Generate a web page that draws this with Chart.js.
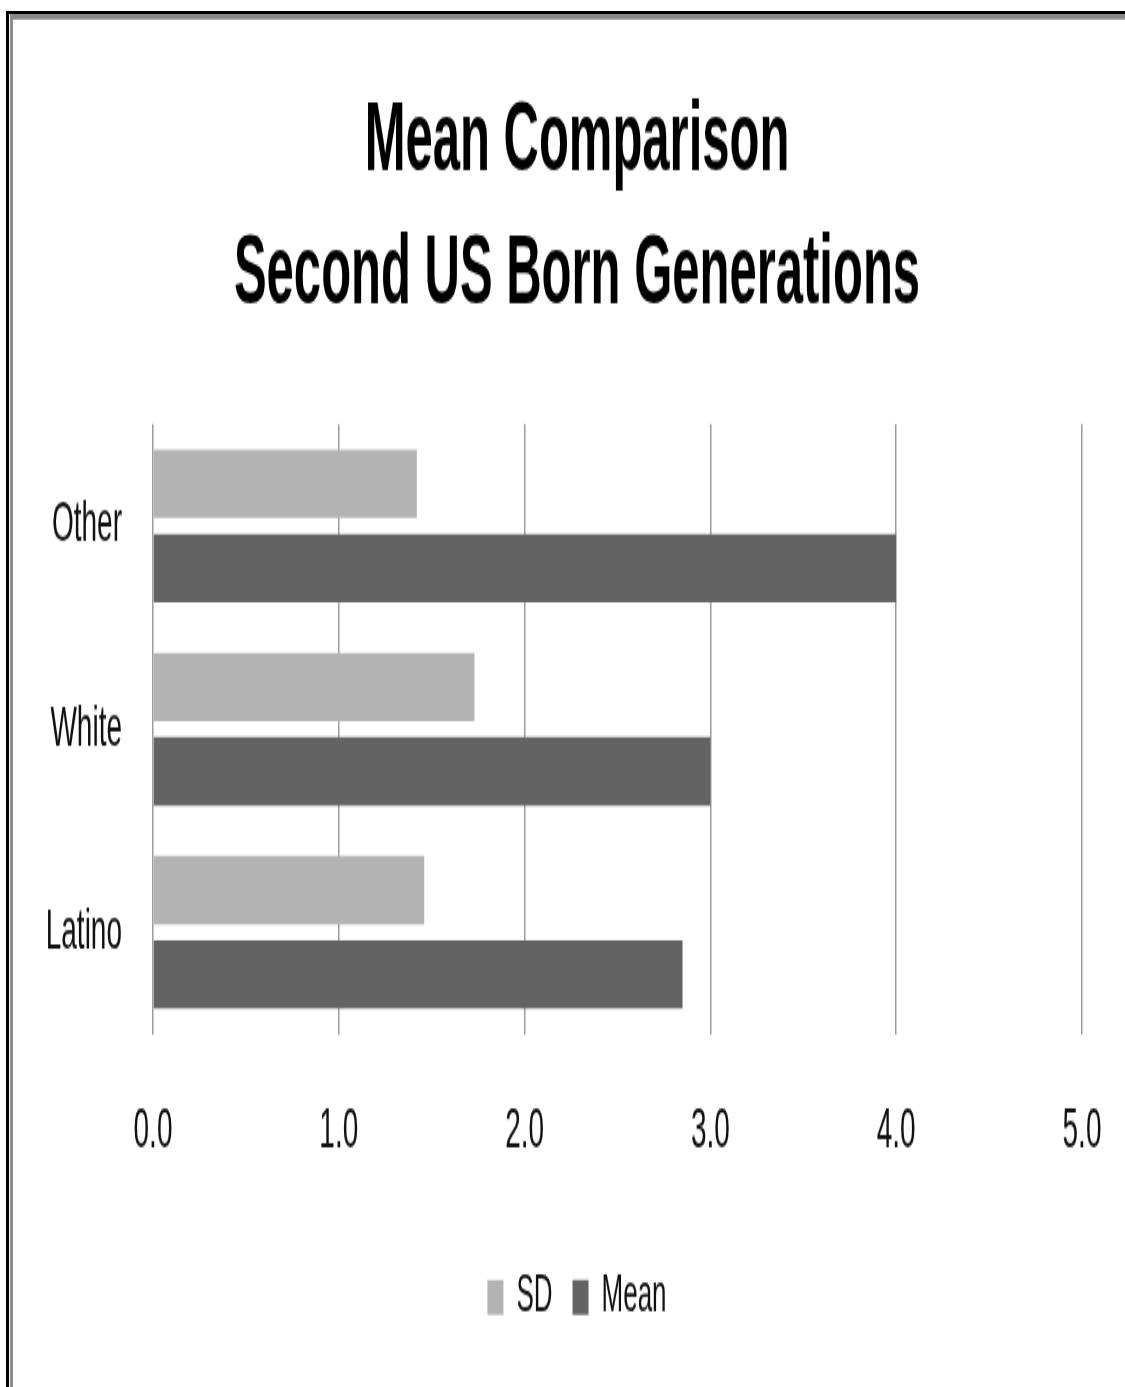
<!DOCTYPE html>
<html>
<head>
<meta charset="utf-8">
<script src="https://cdn.jsdelivr.net/npm/chart.js@4.4.1/dist/chart.umd.min.js"></script>
<style>
  html, body { margin: 0; padding: 0; background: #fff; }
  body { width: 1125px; height: 1387px; position: relative; overflow: hidden; }
  #stage {
    position: absolute; left: 0; top: 0;
    width: 1125px; height: 677px;
    transform: scaleY(2.0487); transform-origin: 0 0;
  }
  .edge { position: absolute; }
  #outerTop  { left: 6px;  top: 11px; right: 0; height: 3px; background: #000; }
  #outerLeft { left: 6px;  top: 11px; bottom: 0; width: 3px; background: #000; }
  #innerTop  { left: 10px; top: 14px; right: 0; height: 6px;
               background: linear-gradient(#868686 0, #868686 60%, #b8b8b8 100%); }
  #innerLeft { left: 10px; top: 14px; bottom: 0; width: 3px; background: #8e8e8e; }
</style>
</head>
<body>
<div id="stage"><canvas id="chart"></canvas></div>
<div class="edge" id="outerTop"></div>
<div class="edge" id="outerLeft"></div>
<div class="edge" id="innerTop"></div>
<div class="edge" id="innerLeft"></div>
<script>
// Groups, top to bottom
const categories = ['Other', 'White', 'Latino'];
// Standard deviation per group
const sdValues = [1.42, 1.73, 1.46];
// Mean per group
const meanValues = [4.0, 3.0, 2.85];
// Value axis range and tick step
const axisMin = 0;
const axisMax = 5;
const axisStep = 1;
const titleLines = ['Mean Comparison', 'Second US Born Generations'];

const FONT = "'Liberation Sans', Arial, sans-serif";
const PAD_LEFT = 44;
const PAD_RIGHT = 15;
const PLOT_LEFT = 153;     // left edge of the plot area
const PLOT_RIGHT_GAP = 43; // space right of the plot area

new Chart(document.getElementById('chart'), {
  type: 'bar',
  data: {
    labels: categories,
    datasets: [
      { label: 'SD', data: sdValues, backgroundColor: '#b3b3b3' },
      { label: 'Mean', data: meanValues, backgroundColor: '#636363' }
    ]
  },
  options: {
    indexAxis: 'y',
    responsive: true,
    maintainAspectRatio: false,
    animation: false,
    events: [],
    datasets: { bar: { categoryPercentage: 0.83, barPercentage: 0.81 } },
    layout: { padding: { left: PAD_LEFT, right: PAD_RIGHT, top: 0, bottom: 20.7 } },
    scales: {
      x: {
        min: axisMin, max: axisMax,
        grid: { color: '#9c9c9c', lineWidth: 1.5, drawTicks: false },
        border: { display: false },
        ticks: {
          stepSize: axisStep,
          padding: 31,
          color: '#111',
          font: { family: FONT, size: 28 },
          callback: v => Number(v).toFixed(1)
        },
        afterFit: s => { s.paddingLeft = 0; s.paddingRight = PLOT_RIGHT_GAP; }
      },
      y: {
        grid: { display: false, drawTicks: false },
        border: { display: false },
        ticks: {
          padding: 31,
          color: '#111',
          font: { family: FONT, size: 28 }
        },
        afterFit: s => { s.width = PLOT_LEFT - PAD_LEFT; }
      }
    },
    plugins: {
      title: {
        display: true,
        text: titleLines,
        color: '#000',
        font: { family: FONT, size: 49, weight: 'bold', lineHeight: 1.34 },
        padding: { top: 36.4, bottom: 39.4 }
      },
      legend: {
        position: 'bottom',
        labels: {
          boxWidth: 16, boxHeight: 17,
          padding: 20,
          color: '#111',
          font: { family: FONT, size: 26 }
        }
      },
      tooltip: { enabled: false }
    }
  }
});
</script>
</body>
</html>
